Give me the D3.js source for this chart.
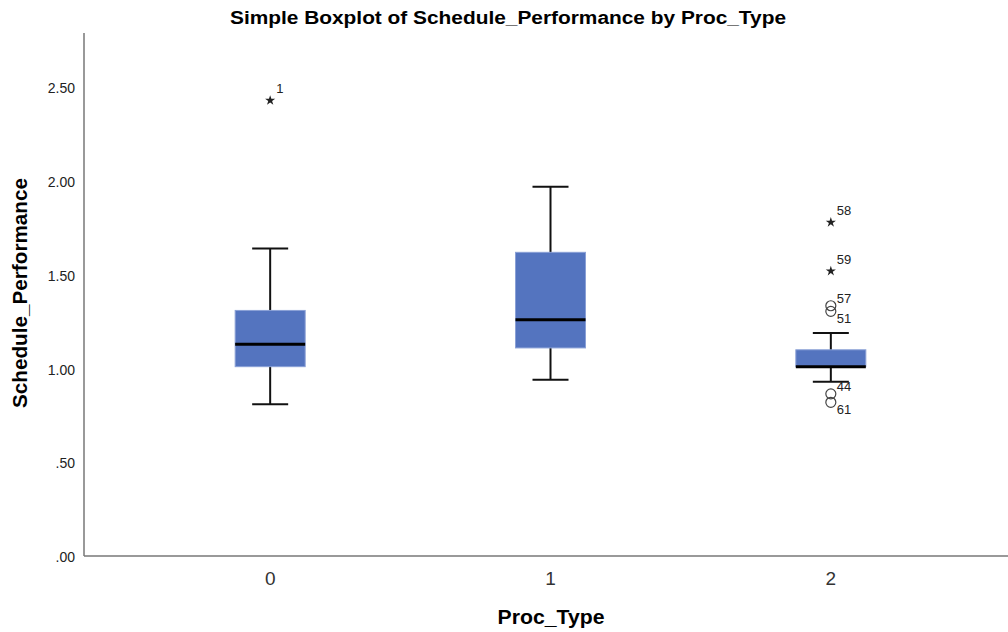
<!DOCTYPE html>
<meta charset="utf-8">
<head>
  <script src="https://d3js.org/d3.v7.min.js"></script>
  <style>
    body { margin: 0; background: #fff; }
    text { font-family: "Liberation Sans", Arial, sans-serif; }
  </style>
</head>
<body>
<div id="chart"></div>
<script>
// data
var groups = ["0", "1", "2"];
var whiskerLow  = [0.81, 0.94, 0.93];
var q1          = [1.01, 1.11, 1.01];
var medians     = [1.13, 1.26, 1.01];
var q3          = [1.31, 1.62, 1.10];
var whiskerHigh = [1.64, 1.97, 1.19];
// outliers: group, value, case label, type (star = extreme, circle = outlier), label side
var outGroup = ["0", "2", "2", "2", "2", "2", "2"];
var outValue = [2.43, 1.78, 1.52, 1.335, 1.305, 0.865, 0.82];
var outCase  = ["1", "58", "59", "57", "51", "44", "61"];
var outType  = ["star", "star", "star", "circle", "circle", "circle", "circle"];
var outSide  = ["up", "up", "up", "up", "down", "up", "down"];
var yTicks = [0, 0.5, 1, 1.5, 2, 2.5];

var width = 1008, height = 632;
var margin = {top: 33, right: 0, bottom: 76, left: 84};

var svg = d3.select("#chart").append("svg")
  .attr("width", width).attr("height", height);

var y = d3.scaleLinear()
  .domain([0, 2.79])
  .range([height - margin.bottom, margin.top]);

var x = d3.scaleBand()
  .domain(groups)
  .range([130, 971]);

var boxW = 70, capW = 36;

// title
svg.append("text")
  .attr("x", 508).attr("y", 24)
  .attr("text-anchor", "middle")
  .style("font-size", "18px").style("font-weight", "bold")
  .attr("textLength", 556).attr("lengthAdjust", "spacingAndGlyphs")
  .text("Simple Boxplot of Schedule_Performance by Proc_Type");

// y axis
svg.append("line")
  .attr("x1", margin.left).attr("x2", margin.left)
  .attr("y1", margin.top).attr("y2", y(0))
  .attr("stroke", "#777").attr("stroke-width", 1.5);
svg.selectAll(".ytick").data(yTicks).enter().append("text")
  .attr("x", 75).attr("y", function(d){ return y(d) + 6; })
  .attr("text-anchor", "end")
  .style("font-size", "14px").attr("fill", "#222")
  .text(function(d){ return d === 0 ? ".00" : (d < 1 ? d3.format(".2f")(d).slice(1) : d3.format(".2f")(d)); });

// x axis
svg.append("line")
  .attr("x1", margin.left).attr("x2", width)
  .attr("y1", y(0)).attr("y2", y(0))
  .attr("stroke", "#777").attr("stroke-width", 1.5);
svg.selectAll(".xtick").data(groups).enter().append("text")
  .attr("x", function(d){ return x(d) + x.bandwidth() / 2; })
  .attr("y", 585)
  .attr("text-anchor", "middle")
  .style("font-size", "19px").attr("fill", "#333")
  .text(function(d){ return d; });

// axis titles
svg.append("text")
  .attr("x", 551).attr("y", 624)
  .attr("text-anchor", "middle")
  .style("font-size", "20px").style("font-weight", "bold")
  .attr("textLength", 107).attr("lengthAdjust", "spacingAndGlyphs")
  .text("Proc_Type");
svg.append("text")
  .attr("transform", "translate(27,293) rotate(-90)")
  .attr("text-anchor", "middle")
  .style("font-size", "20px").style("font-weight", "bold")
  .attr("textLength", 230).attr("lengthAdjust", "spacingAndGlyphs")
  .text("Schedule_Performance");

// boxes
var boxes = groups.map(function(g, i){
  return {g: g, lo: whiskerLow[i], q1: q1[i], med: medians[i], q3: q3[i], hi: whiskerHigh[i]};
});
var bg = svg.selectAll(".box").data(boxes).enter().append("g");
function cx(d){ return x(d.g) + x.bandwidth() / 2; }

bg.append("line")
  .attr("x1", cx).attr("x2", cx)
  .attr("y1", function(d){ return y(d.hi); }).attr("y2", function(d){ return y(d.lo); })
  .attr("stroke", "#111").attr("stroke-width", 2);
bg.append("line")
  .attr("x1", function(d){ return cx(d) - capW / 2; }).attr("x2", function(d){ return cx(d) + capW / 2; })
  .attr("y1", function(d){ return y(d.hi); }).attr("y2", function(d){ return y(d.hi); })
  .attr("stroke", "#111").attr("stroke-width", 2);
bg.append("line")
  .attr("x1", function(d){ return cx(d) - capW / 2; }).attr("x2", function(d){ return cx(d) + capW / 2; })
  .attr("y1", function(d){ return y(d.lo); }).attr("y2", function(d){ return y(d.lo); })
  .attr("stroke", "#111").attr("stroke-width", 2);
bg.append("rect")
  .attr("x", function(d){ return cx(d) - boxW / 2; })
  .attr("y", function(d){ return y(d.q3); })
  .attr("width", boxW)
  .attr("height", function(d){ return y(d.q1) - y(d.q3); })
  .attr("fill", "#5474bf").attr("stroke", "#8aa0d6").attr("stroke-width", 1);
bg.append("line")
  .attr("x1", function(d){ return cx(d) - boxW / 2; }).attr("x2", function(d){ return cx(d) + boxW / 2; })
  .attr("y1", function(d){ return y(d.med); }).attr("y2", function(d){ return y(d.med); })
  .attr("stroke", "#000").attr("stroke-width", 3);

// outliers
var outs = outValue.map(function(v, i){
  return {g: outGroup[i], v: v, c: outCase[i], t: outType[i], s: outSide[i]};
});
var star = d3.symbol().type(d3.symbolStar).size(32);
var og = svg.selectAll(".out").data(outs).enter().append("g")
  .attr("transform", function(d){ return "translate(" + cx(d) + "," + y(d.v) + ")"; });
og.filter(function(d){ return d.t === "star"; }).append("path")
  .attr("d", star).attr("fill", "#222");
og.filter(function(d){ return d.t === "circle"; }).append("ellipse")
  .attr("rx", 5).attr("ry", 5).attr("fill", "none").attr("stroke", "#444").attr("stroke-width", 1.2);
og.append("text")
  .attr("x", 6)
  .attr("y", function(d){
    if (d.s === "down") return 12;
    return d.t === "star" ? -7 : -3;
  })
  .style("font-size", "13px").attr("fill", "#222")
  .text(function(d){ return d.c; });
</script>
</body>
